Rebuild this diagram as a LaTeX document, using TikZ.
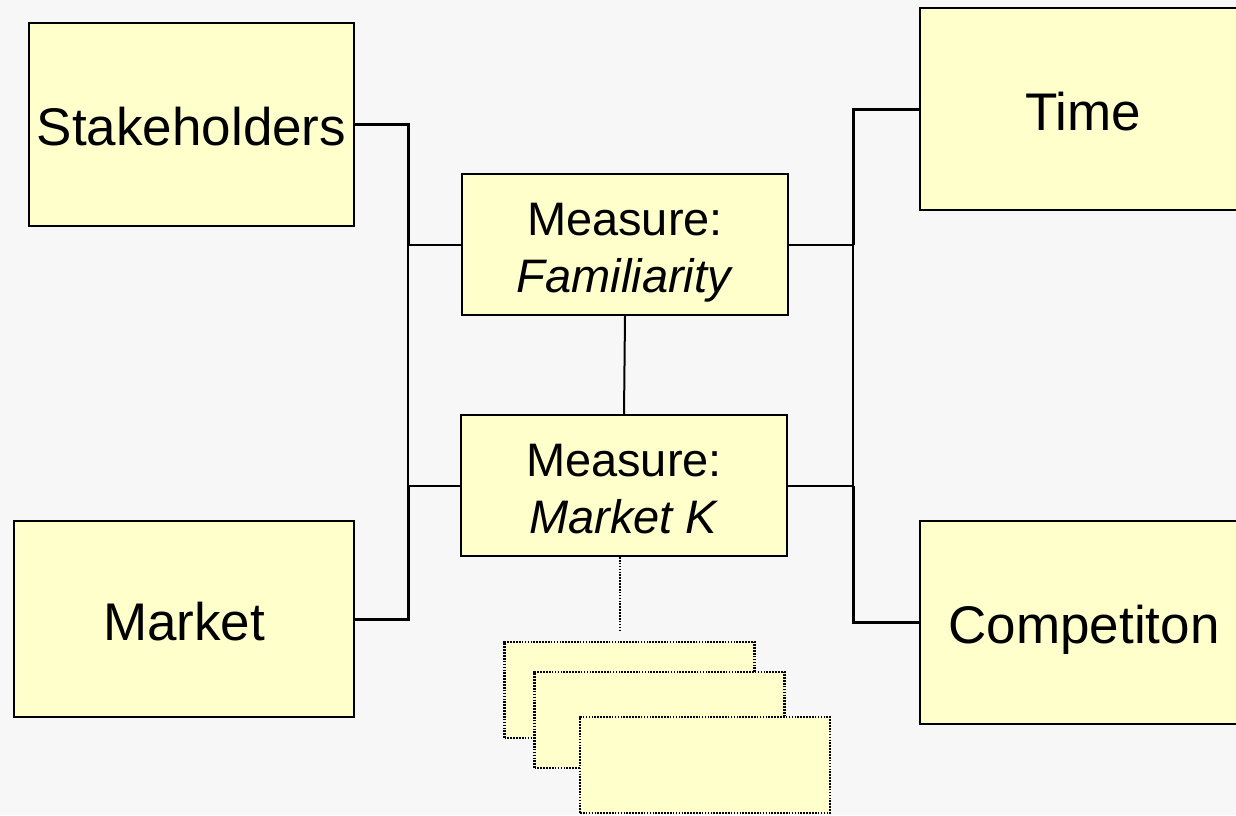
\documentclass[tikz,border=0pt]{standalone}
\usepackage{fontspec}
\setmainfont{Liberation Sans}
\usetikzlibrary{positioning}
\definecolor{bggray}{HTML}{F7F7F7}
\definecolor{boxyellow}{HTML}{FFFFCC}
\tikzstyle{bigbox}=[rectangle,draw=black,fill=boxyellow,line width=2.2pt,inner sep=0pt,text height=52pt,text depth=10pt,font=\fontsize{53}{60}\selectfont]
\tikzstyle{measurebox}=[rectangle,draw=black,fill=boxyellow,line width=2pt,inner sep=0pt,align=center,minimum width=326pt,minimum height=141pt,font=\fontsize{47}{57}\selectfont]
\tikzstyle{emptybox}=[rectangle,draw=black,fill=boxyellow,line width=2.1pt,dash pattern=on 1.6pt off 1.3pt,minimum width=250pt,minimum height=96pt,inner sep=0pt]
\tikzstyle{bus} = [draw,line width=3pt]
\tikzstyle{link} = [draw,line width=2pt]
\tikzstyle{dottedlink} = [draw,line width=2.1pt,dash pattern=on 1.6pt off 1.3pt]
% two lines with fixed top and bottom, so both measures sit alike
\newcommand{\measuretext}[1]{\rule{0pt}{49pt}Measure:\\\rule[-10pt]{0pt}{10pt}\textit{#1}}

\begin{document}
\begin{tikzpicture}[x=1pt,y=-1pt]

	\useasboundingbox (0,0) rectangle (1236,815);
	\fill[bggray] (0,0) rectangle (1236,815);

	% bus lines left and right
	\coordinate (lbus) at (408,0);
	\coordinate (rbus) at (853,0);
	\coordinate (dotend) at (620,631);

% outer boxes
	\begin{scope}
	\clip (0,0) rectangle (1236,815);
	\node[bigbox,minimum width=325pt,minimum height=203pt] (stake) at (191.5,124.5) {Stakeholders};
	\node[bigbox,minimum width=340pt,minimum height=196pt] (market) at (184,619) {Market};
	\node[bigbox,minimum width=326pt,minimum height=202pt] (time) at (1083,109) {Time};
	\node[bigbox,minimum width=328pt,minimum height=203pt] (comp) at (1084,622.5) {Competiton};

% stacked empty boxes
	\foreach \pos/\name in {{(629.5,690)/ex1}, {(659.5,720)/ex2}, {(705,765)/ex3}}
		\node[emptybox] (\name) at \pos {};
	\end{scope}

% measures
	\node[measurebox] (fam) at (625,244.5) {\measuretext{Familiarity}};
	\node[measurebox] (mkt) at (624,485.5) {\measuretext{Market K}};

	% left side
	\path[bus] (stake.east) -- (stake.east -| lbus) -- (fam.west -| lbus);
	\path[link] (fam.west -| lbus) -- (mkt.west -| lbus);
	\path[bus] (mkt.west -| lbus) -- (market.east -| lbus) -- (market.east);
	\foreach \dest in {fam, mkt}
		\path[link] (\dest.west -| lbus) -- (\dest.west);

	% right side
	\path[bus] (time.west) -- (time.west -| rbus) -- (fam.east -| rbus);
	\path[link] (fam.east -| rbus) -- (mkt.east -| rbus);
	\path[bus] (mkt.east -| rbus) -- (comp.west -| rbus) -- (comp.west);
	\foreach \source in {fam, mkt}
		\path[link] (\source.east) -- (\source.east -| rbus);

	% between the measures
	\path[link] (fam.south) -- (mkt.north);
	\path[dottedlink] (dotend |- mkt.south) -- (dotend);

\end{tikzpicture}
\end{document}
